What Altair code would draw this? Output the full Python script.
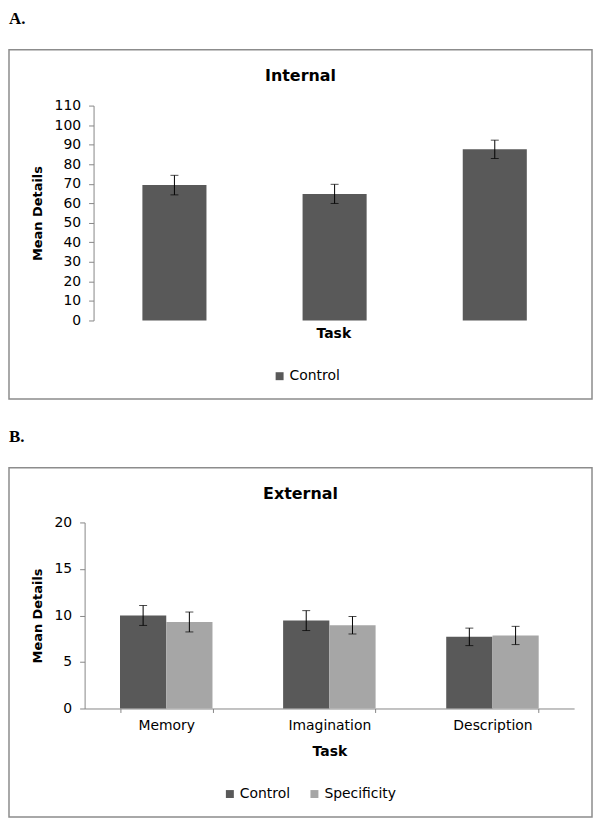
import altair as alt
import pandas as pd

tasks = ["Memory", "Imagination", "Description"]
internal_control = [69.3, 64.8, 87.6]
internal_control_err = [5.0, 4.9, 4.7]
external_control = [10.0, 9.45, 7.7]
external_control_err = [1.07, 1.07, 0.94]
external_specificity = [9.3, 8.95, 7.85]
external_specificity_err = [1.07, 0.94, 0.98]
groups_a = ["Control"]
groups_b = ["Control", "Specificity"]
colors_a = ["#595959"]
colors_b = ["#595959", "#a6a6a6"]
y_ticks_a = list(range(0, 111, 10))
y_ticks_b = [0, 5, 10, 15, 20]

df_a = pd.DataFrame({"Task": tasks, "Group": "Control",
                     "Mean": internal_control, "Err": internal_control_err})
df_a["Lo"] = df_a["Mean"] - df_a["Err"]
df_a["Hi"] = df_a["Mean"] + df_a["Err"]

df_b = pd.concat([
    pd.DataFrame({"Task": tasks, "Group": "Control",
                  "Mean": external_control, "Err": external_control_err}),
    pd.DataFrame({"Task": tasks, "Group": "Specificity",
                  "Mean": external_specificity, "Err": external_specificity_err}),
], ignore_index=True)
df_b["Lo"] = df_b["Mean"] - df_b["Err"]
df_b["Hi"] = df_b["Mean"] + df_b["Err"]

one = pd.DataFrame({"k": [0]})
AXIS_GRAY = "#868686"
BOX_GRAY = "#8c8c8c"


def y_axis(values, offset=0):
    return alt.Axis(values=values, title="Mean Details", titleFontSize=13,
                    titleFontWeight="bold", titlePadding=10, labelFontSize=14,
                    labelPadding=8, tickSize=5, domainColor=AXIS_GRAY,
                    tickColor=AXIS_GRAY, labelColor="black", titleColor="black",
                    offset=offset)


# ---------------- Panel A ----------------
xa = alt.X("Task:N", sort=tasks,
           scale=alt.Scale(paddingInner=0.6, paddingOuter=0.328, align=0.55),
           axis=alt.Axis(title="Task", labels=False, ticks=False, domain=False,
                         titlePadding=6, titleFontSize=14, titleFontWeight="bold",
                         titleColor="black", titleX=250))
ya_scale = alt.Scale(domain=[0, 110], nice=False)
ya_axis = y_axis(y_ticks_a, offset=-9)

bars_a = alt.Chart(df_a).mark_bar().encode(
    x=xa,
    y=alt.Y("Mean:Q", scale=ya_scale, axis=ya_axis),
    color=alt.Color("Group:N", scale=alt.Scale(domain=groups_a, range=colors_a),
                    legend=alt.Legend(title=None, orient="none", legendX=189,
                                      legendY=265, symbolType="square",
                                      symbolSize=64, symbolStrokeWidth=0,
                                      labelFontSize=14, labelOffset=3,
                                      labelColor="black", padding=0)),
)
rule_a = alt.Chart(df_a).mark_rule(color="black", strokeWidth=1).encode(
    x=xa, y=alt.Y("Lo:Q", scale=ya_scale, axis=ya_axis), y2="Hi:Q")
caplo_a = alt.Chart(df_a).mark_tick(color="black", size=8, thickness=1).encode(
    x=xa, y=alt.Y("Lo:Q", scale=ya_scale, axis=ya_axis))
caphi_a = alt.Chart(df_a).mark_tick(color="black", size=8, thickness=1).encode(
    x=xa, y=alt.Y("Hi:Q", scale=ya_scale, axis=ya_axis))

box_a = alt.Chart(one).mark_rect(filled=False, stroke=BOX_GRAY, strokeWidth=1.5).encode(
    x=alt.value(-76), x2=alt.value(510), y=alt.value(-56), y2=alt.value(295))
lab_a = alt.Chart(one).mark_text(text="A.", font="Liberation Serif", fontSize=17,
                                 fontWeight="bold", align="left", baseline="alphabetic",
                                 color="black").encode(x=alt.value(-76), y=alt.value(-82))
title_a = alt.Chart(one).mark_text(text="Internal", fontSize=16, fontWeight="bold",
                                   align="center", baseline="alphabetic",
                                   color="black").encode(x=alt.value(217), y=alt.value(-25))

panel_a = alt.layer(box_a, bars_a, rule_a, caplo_a, caphi_a, lab_a, title_a).properties(
    width=492, height=216)

# ---------------- Panel B ----------------
xb = alt.X("Task:N", sort=tasks,
           scale=alt.Scale(paddingInner=0.433, paddingOuter=0.217),
           axis=alt.Axis(title="Task", labelFontSize=14, labelAngle=0, labelPadding=6,
                         labelColor="black", tickBand="extent", tickSize=4,
                         domainColor=AXIS_GRAY, tickColor=AXIS_GRAY,
                         titlePadding=12, titleFontSize=14, titleFontWeight="bold",
                         titleColor="black"))
xob = alt.XOffset("Group:N", sort=groups_b,
                  scale=alt.Scale(paddingInner=0, paddingOuter=0))
yb_scale = alt.Scale(domain=[0, 20], nice=False)
yb_axis = y_axis(y_ticks_b)

bars_b = alt.Chart(df_b).mark_bar().encode(
    x=xb, xOffset=xob,
    y=alt.Y("Mean:Q", scale=yb_scale, axis=yb_axis),
    color=alt.Color("Group:N", scale=alt.Scale(domain=groups_b, range=colors_b),
                    legend=alt.Legend(title=None, orient="none", legendX=139,
                                      legendY=266, direction="horizontal",
                                      symbolType="square", symbolSize=64,
                                      symbolStrokeWidth=0, labelFontSize=14,
                                      labelOffset=3, columnPadding=17,
                                      labelColor="black", padding=0)),
)
rule_b = alt.Chart(df_b).mark_rule(color="black", strokeWidth=1).encode(
    x=xb, xOffset=xob,
    y=alt.Y("Lo:Q", scale=yb_scale, axis=yb_axis), y2="Hi:Q")
caplo_b = alt.Chart(df_b).mark_tick(color="black", size=8, thickness=1).encode(
    x=xb, xOffset=xob, y=alt.Y("Lo:Q", scale=yb_scale, axis=yb_axis))
caphi_b = alt.Chart(df_b).mark_tick(color="black", size=8, thickness=1).encode(
    x=xb, xOffset=xob, y=alt.Y("Hi:Q", scale=yb_scale, axis=yb_axis))

box_b = alt.Chart(one).mark_rect(filled=False, stroke=BOX_GRAY, strokeWidth=1.5).encode(
    x=alt.value(-76), x2=alt.value(510), y=alt.value(-55), y2=alt.value(296))
lab_b = alt.Chart(one).mark_text(text="B.", font="Liberation Serif", fontSize=17,
                                 fontWeight="bold", align="left", baseline="alphabetic",
                                 color="black").encode(x=alt.value(-76), y=alt.value(-81))
title_b = alt.Chart(one).mark_text(text="External", fontSize=16, fontWeight="bold",
                                   align="center", baseline="alphabetic",
                                   color="black").encode(x=alt.value(217), y=alt.value(-24))

panel_b = alt.layer(box_b, bars_b, rule_b, caplo_b, caphi_b, lab_b, title_b).properties(
    width=492, height=187)

chart = alt.vconcat(panel_a, panel_b, spacing=28).resolve_scale(
    color="independent", x="independent", y="independent").resolve_legend(
    color="independent").properties(padding=0).configure(
    font="DejaVu Sans").configure_view(stroke=None).configure_axis(grid=False)

chart.save("out.html", embed_options={"renderer": "svg", "actions": False})
